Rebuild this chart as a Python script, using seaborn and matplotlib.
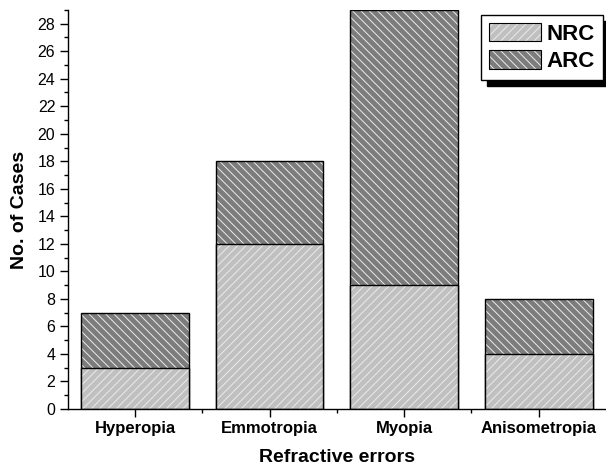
import matplotlib
matplotlib.use("Agg")
import matplotlib.pyplot as plt
import seaborn as sns
import pandas as pd
from matplotlib.patches import Patch
from matplotlib.ticker import MultipleLocator

categories = ["Hyperopia", "Emmotropia", "Myopia", "Anisometropia"]
nrc = [3, 12, 9, 4]
arc = [4, 6, 20, 4]

df = pd.DataFrame({"error": categories, "NRC": nrc, "ARC": arc})
df["total"] = df["NRC"] + df["ARC"]

sns.set_style("ticks")
plt.rcParams["font.family"] = ["Liberation Sans", "DejaVu Sans"]
plt.rcParams["hatch.linewidth"] = 0.7
for key in ["text.color", "axes.labelcolor", "xtick.color", "ytick.color", "axes.edgecolor"]:
    plt.rcParams[key] = "black"

nrc_color = "#c0c0c0"
arc_color = "#7c7c7c"
hatch_white = (0.92, 0.92, 0.92, 1.0)


def white_hatch(patch, hatch):
    # matplotlib 3.10 ties hatch colour to the edge colour, override it after
    patch.set_hatch(hatch)
    patch._hatch_color = hatch_white


fig = plt.figure(figsize=(6.06, 4.72), dpi=100)
ax = fig.add_axes([0.112, 0.1335, 0.888, 0.8455])

sns.barplot(data=df, x="error", y="total", color=arc_color, width=0.8,
            edgecolor="black", linewidth=1, saturation=1, ax=ax)
n_arc = len(ax.patches)
sns.barplot(data=df, x="error", y="NRC", color=nrc_color, width=0.8,
            edgecolor="black", linewidth=1, saturation=1, ax=ax)
for i, p in enumerate(ax.patches):
    white_hatch(p, "\\\\\\\\" if i < n_arc else "////")

ax.set_xlim(-0.5, 3.5)
ax.set_ylim(0, 29)
ax.yaxis.set_major_locator(MultipleLocator(2))
ax.yaxis.set_minor_locator(MultipleLocator(1))
ax.set_xticks([0.5, 1.5, 2.5], minor=True)
ax.tick_params(axis="both", which="major", length=5.5, width=1, direction="out")
ax.tick_params(axis="both", which="minor", length=3, width=1, direction="out")
ax.tick_params(axis="y", labelsize=11.5)
ax.tick_params(axis="x", labelsize=12)
for lbl in ax.get_xticklabels():
    lbl.set_fontweight("bold")
sns.despine(ax=ax)
ax.spines["left"].set_linewidth(1)
ax.spines["bottom"].set_linewidth(1)

ax.set_xlabel("Refractive errors", fontsize=14, fontweight="bold", labelpad=9)
ax.set_ylabel("No. of Cases", fontsize=14, fontweight="bold", labelpad=7)

handles = [
    Patch(facecolor=nrc_color, edgecolor="black", linewidth=0.8, label="NRC"),
    Patch(facecolor=arc_color, edgecolor="black", linewidth=0.8, label="ARC"),
]
white_hatch(handles[0], "////")
white_hatch(handles[1], "\\\\\\\\")
leg = ax.legend(handles=handles, loc="upper right", bbox_to_anchor=(0.994, 0.987),
                borderaxespad=0, fancybox=False, edgecolor="black", framealpha=1,
                shadow={"color": "black", "alpha": 1, "ox": 4, "oy": -4},
                prop={"weight": "bold", "size": 16},
                handlelength=2.35, handleheight=0.9, handletextpad=0.25,
                labelspacing=0.25, borderpad=0.35)
leg.get_frame().set_linewidth(1)

fig.savefig("out.png", dpi=100)
